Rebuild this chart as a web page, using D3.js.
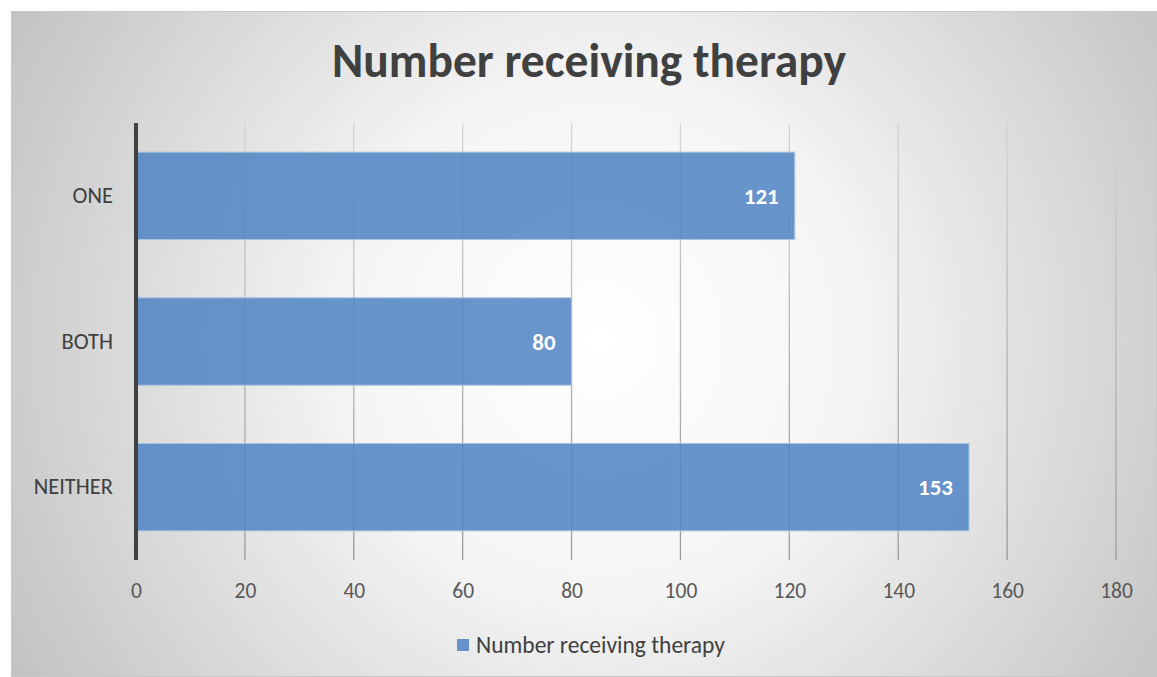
<!DOCTYPE html>
<html>
<head>
<meta charset="utf-8">
<script src="https://cdn.jsdelivr.net/npm/d3@7"></script>
<style>
  html, body { margin: 0; padding: 0; background: #fff; }
  svg { display: block; }
</style>
</head>
<body>
<svg id="chart" width="1157" height="677"></svg>
<script>
// Categories (top to bottom) and their counts
const categories = ["ONE", "BOTH", "NEITHER"];
const values = [121, 80, 153];
const xTicks = [0, 20, 40, 60, 80, 100, 120, 140, 160, 180];
const seriesName = "Number receiving therapy";
const chartTitle = "Number receiving therapy";

const W = 1157, H = 677;
const frame = { x: 11, y: 11, w: W - 11, h: H - 11 };
const plot = { left: 136, right: 1116, top: 123, bottom: 560 };
const font = "Carlito, 'Open Sans', 'Liberation Sans', sans-serif";

const svg = d3.select("#chart");
const defs = svg.append("defs");

// Soft radial background: white centre fading to grey at the corners
const bg = defs.append("radialGradient")
  .attr("id", "bgGrad")
  .attr("gradientUnits", "userSpaceOnUse")
  .attr("cx", 600).attr("cy", 340).attr("r", 720);
bg.append("stop").attr("offset", "0%").attr("stop-color", "#ffffff");
bg.append("stop").attr("offset", "35%").attr("stop-color", "#f5f5f5");
bg.append("stop").attr("offset", "100%").attr("stop-color", "#bdbdbd");

// Gridlines fade in from the top
const gg = defs.append("linearGradient")
  .attr("id", "gridGrad")
  .attr("gradientUnits", "userSpaceOnUse")
  .attr("x1", 0).attr("y1", plot.top).attr("x2", 0).attr("y2", plot.bottom);
gg.append("stop").attr("offset", "0%").attr("stop-color", "#d4d4d4");
gg.append("stop").attr("offset", "100%").attr("stop-color", "#9a9a9a");

svg.append("rect")
  .attr("x", frame.x + 0.5).attr("y", frame.y + 0.5)
  .attr("width", frame.w - 1).attr("height", frame.h - 1)
  .attr("fill", "url(#bgGrad)")
  .attr("stroke", "#c8c8c8").attr("stroke-width", 1);

const x = d3.scaleLinear().domain([0, 180]).range([plot.left, plot.right]);
const y = d3.scaleBand().domain(categories).range([plot.top, plot.bottom]).paddingInner(0.4).paddingOuter(0.2);

// Vertical gridlines
svg.append("g")
  .selectAll("line")
  .data(xTicks.filter(d => d > 0))
  .join("line")
  .attr("x1", d => x(d)).attr("x2", d => x(d))
  .attr("y1", plot.top).attr("y2", plot.bottom)
  .attr("stroke", "url(#gridGrad)").attr("stroke-width", 1.3);

// X tick labels via a bottom axis with its lines hidden
const xAxis = svg.append("g")
  .attr("transform", `translate(0,${plot.bottom})`)
  .call(d3.axisBottom(x).tickValues(xTicks).tickSize(0).tickPadding(23));
xAxis.select(".domain").remove();
xAxis.selectAll("text")
  .attr("font-family", font).attr("font-size", 21.5).attr("fill", "#595959");

// Bars
svg.append("g")
  .selectAll("rect")
  .data(categories)
  .join("rect")
  .attr("x", x(0))
  .attr("y", d => y(d))
  .attr("width", (d, i) => x(values[i]) - x(0))
  .attr("height", y.bandwidth())
  .attr("fill", "#4f84c4").attr("fill-opacity", 0.86)
  .attr("stroke", "#a9c3e4").attr("stroke-width", 1);

// Value labels inside bar ends
svg.append("g")
  .selectAll("text")
  .data(categories)
  .join("text")
  .attr("x", (d, i) => x(values[i]) - 16)
  .attr("y", d => y(d) + y.bandwidth() / 2)
  .attr("dy", "0.35em")
  .attr("text-anchor", "end")
  .attr("font-family", font).attr("font-size", 23).attr("font-weight", "bold")
  .attr("fill", "#ffffff")
  .text((d, i) => values[i]);

// Category axis on the left
const yAxis = svg.append("g")
  .attr("transform", `translate(${plot.left},0)`)
  .call(d3.axisLeft(y).tickSize(0).tickPadding(23));
yAxis.select(".domain").remove();
yAxis.selectAll("text")
  .attr("font-family", font).attr("font-size", 22.5).attr("fill", "#404040");

svg.append("line")
  .attr("x1", x(0)).attr("x2", x(0))
  .attr("y1", plot.top).attr("y2", plot.bottom)
  .attr("stroke", "#404040").attr("stroke-width", 4);

// Title
svg.append("text")
  .attr("x", 589).attr("y", 77)
  .attr("text-anchor", "middle")
  .attr("font-family", font).attr("font-size", 47.5).attr("font-weight", "bold")
  .attr("fill", "#404040")
  .text(chartTitle);

// Legend
const legend = svg.append("g").attr("transform", "translate(457,639)");
legend.append("rect")
  .attr("width", 12).attr("height", 12)
  .attr("fill", "#4f84c4").attr("fill-opacity", 0.86);
legend.append("text")
  .attr("x", 19).attr("y", 6).attr("dy", "0.35em")
  .attr("font-family", font).attr("font-size", 23.5).attr("fill", "#404040")
  .text(seriesName);
</script>
</body>
</html>
